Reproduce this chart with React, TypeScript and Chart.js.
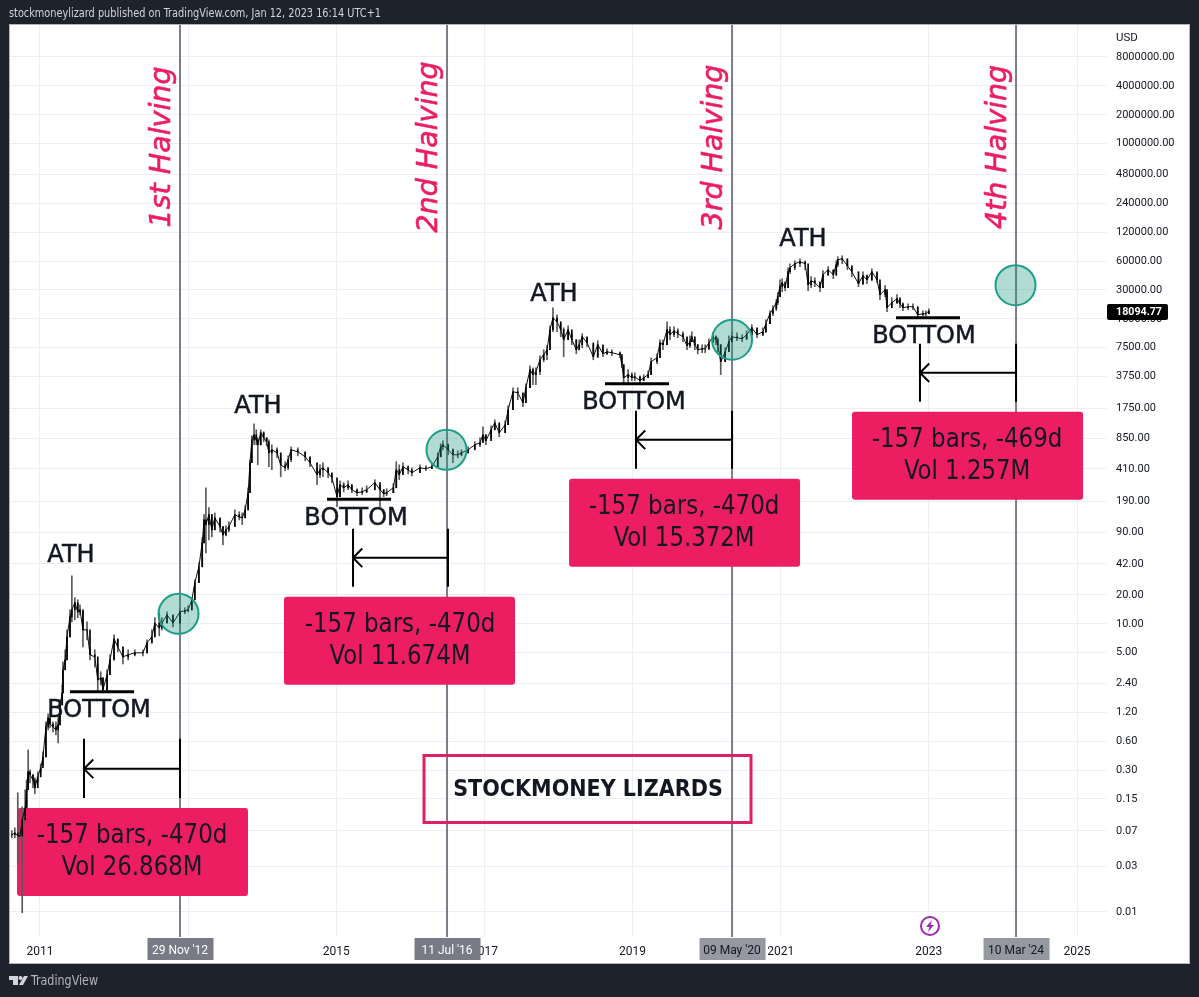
import React, { useEffect, useRef } from "react";
import { Chart, registerables } from "chart.js";

Chart.register(...registerables);

const barYears = [
  2010.62,2010.66,2010.70,2010.73,2010.76,2010.80,2010.82,2010.84,2010.865,2010.905,
  2010.93,2010.97,2011.01,2011.04,2011.08,2011.11,2011.135,2011.175,2011.215,2011.245,
  2011.27,2011.30,2011.31,2011.34,2011.365,2011.405,2011.43,2011.47,2011.51,2011.54,
  2011.58,2011.635,2011.675,2011.74,2011.78,2011.82,2011.85,2011.905,2011.945,2012.0,
  2012.05,2012.12,2012.19,2012.28,2012.39,2012.445,2012.51,2012.55,2012.61,2012.645,
  2012.715,2012.795,2012.89,2012.955,2013.0,2013.05,2013.09,2013.145,2013.19,2013.215,
  2013.24,2013.28,2013.32,2013.36,2013.43,2013.47,2013.51,2013.55,2013.63,2013.69,
  2013.73,2013.77,2013.81,2013.835,2013.86,2013.89,2013.92,2013.94,2013.98,2014.02,
  2014.06,2014.09,2014.13,2014.20,2014.25,2014.31,2014.35,2014.39,2014.48,2014.58,
  2014.645,2014.74,2014.78,2014.82,2014.89,2014.94,2015.01,2015.05,2015.10,2015.16,
  2015.21,2015.28,2015.35,2015.41,2015.52,2015.59,2015.64,2015.68,2015.77,2015.81,
  2015.85,2015.90,2015.97,2016.02,2016.13,2016.21,2016.29,2016.37,2016.41,2016.44,
  2016.51,2016.575,2016.64,2016.69,2016.78,2016.87,2016.94,2016.98,2017.02,2017.09,
  2017.14,2017.20,2017.28,2017.32,2017.385,2017.45,2017.52,2017.56,2017.615,2017.655,
  2017.695,2017.75,2017.80,2017.845,2017.885,2017.925,2017.98,2018.03,2018.07,2018.13,
  2018.18,2018.24,2018.28,2018.32,2018.385,2018.47,2018.53,2018.60,2018.655,2018.72,
  2018.83,2018.855,2018.88,2018.94,2018.99,2019.03,2019.10,2019.15,2019.21,2019.25,
  2019.33,2019.37,2019.41,2019.465,2019.505,2019.56,2019.61,2019.68,2019.735,2019.775,
  2019.80,2019.84,2019.88,2019.94,2019.98,2020.03,2020.085,2020.125,2020.15,2020.19,
  2020.25,2020.30,2020.34,2020.41,2020.48,2020.54,2020.61,2020.68,2020.76,2020.80,
  2020.855,2020.895,2020.94,2020.96,2020.99,2021.02,2021.06,2021.10,2021.125,2021.19,
  2021.26,2021.33,2021.37,2021.41,2021.46,2021.53,2021.57,2021.64,2021.71,2021.75,
  2021.77,2021.83,2021.90,2021.96,2022.05,2022.11,2022.165,2022.23,2022.30,2022.34,
  2022.41,2022.435,2022.50,2022.57,2022.61,2022.65,2022.72,2022.785,2022.85,2022.92,
  2022.96,2023.0,
];

const barCloses = [
  .0634,.0665,.0619,.0619,.0908,.121,.187,.288,.268,.237,
  .196,.255,.317,.412,.845,1.05,.908,.845,.787,.887,
  1.43,1.91,3.32,4.22,7.32,11.8,14,16.6,13.3,14,
  8.66,8.66,4.76,4.53,2.61,2.74,2.06,2.95,4.22,6.98,
  5.76,4.53,4.76,4.99,4.99,6.34,7.32,10.2,9.08,10.2,
  12.4,10.2,13.3,13.7,14,17.8,26.8,39.3,69.8,121,
  108,137,95.3,127,103,84.5,95,103,137,130,
  127,154,232,476,825,930,825,732,976,866,
  787,604,649,604,453,422,511,649,619,549,
  476,357,402,422,374,332,211,281,261,281,
  249,232,237,249,295,249,226,232,261,402,
  357,432,402,374,422,412,432,549,698,732,
  649,576,576,604,649,732,768,930,806,1049,
  1241,976,1183,1696,2612,2550,2006,2876,4430,3930,
  4220,5620,6340,7150,11550,15400,13990,11550,9080,11550,
  9080,7150,8060,9760,8450,6040,8060,6490,6810,6650,
  6340,4990,3650,3930,3650,3740,3400,3650,3930,5360,
  5900,8450,8060,11550,10240,11270,10490,9760,7870,8660,
  9760,8060,7150,7320,7320,8450,9760,9080,8060,5360,
  6810,8660,9760,9530,9300,10240,12110,10240,11000,13340,
  16960,19120,22080,25500,32420,35700,31660,46400,51100,56200,
  59000,56200,34000,37400,35700,31660,43200,48700,43200,54900,
  61900,63400,53600,46400,34800,42200,38300,46400,38300,26760,
  30170,19580,22080,24310,21560,19580,20060,20060,16550,16960,
  16960,18094,
];

const barHighs = [
  .0698,.075,.174,.0681,.124,.187,.237,.487,.302,.268,
  .249,.288,.348,.464,.953,1.155,1.05,.953,.953,1.05,
  1.62,2.32,4.02,5.36,8.66,14,31.7,18.7,17.8,15.8,
  13.3,10.5,5.62,5.36,3.74,3.17,2.74,3.32,4.76,7.68,
  6.81,5.36,5.36,5.36,5.36,6.81,8.66,11.6,13,11.6,
  13.3,11.8,14.3,14.7,15.4,18.7,28.8,43.2,78.7,137,
  261,162,137,143,121,103,105,115.5,154,147,
  143,170,261,511,908,1211,1049,866,1049,1000,
  866,825,732,681,576,487,562,698,681,604,
  536,422,453,476,422,365,261,309,295,309,
  281,255,261,274,317,281,249,255,288,487,
  453,476,443,422,453,443,464,604,750,806,
  750,665,634,649,698,787,866,1127,930,1155,
  1334,1183,1302,1866,2876,2876,2373,3166,4870,4640,
  4640,6190,7150,7870,12710,19580,16550,13340,12110,12710,
  10750,9080,9080,10500,9530,8060,8870,7500,7320,7150,
  6810,6340,4990,4430,4120,4120,3830,3930,4320,5900,
  6490,9080,9080,13990,12410,12410,11830,11000,9300,10000,
  11000,9300,8060,8060,8060,9300,10750,10000,9530,8060,
  7500,10000,10750,10750,10240,11270,13020,11550,12110,14680,
  18220,20550,23730,28070,38300,39300,36500,51100,56200,60400,
  63400,60400,43200,41200,40200,36500,47600,52400,47600,60400,
  66500,68100,60400,52400,39300,46400,43200,49900,44300,34000,
  33210,28760,24900,26760,24900,22080,21560,21560,19580,18220,
  18220,19120,
];

const barLows = [
  .059,.059,.0324,.059,.0098,.0806,.124,.187,.221,.196,
  .17,.226,.288,.34,.412,.787,.825,.75,.698,.576,
  .887,1.43,1.91,3.32,4.22,7.32,10.5,11,11.6,12.4,
  5.76,6.81,4.22,3.57,1.96,2.32,1.91,1.96,2.95,4.22,
  5.11,3.83,4.22,4.64,4.64,4.99,6.34,7.32,7.5,8.66,
  10.2,9.3,10,12.7,13.3,14,17.8,26.8,39.3,69.8,
  54.9,75,80.6,95.3,90.8,66.5,82.5,90.8,103,121,
  108,127,154,232,476,732,732,453,732,787,
  715,432,402,536,340,393,402,487,562,499,
  432,281,332,340,332,295,166,211,237,249,
  232,216,221,232,249,166,211,216,232,261,
  317,374,365,348,383,393,412,432,549,649,
  576,476,536,562,604,665,698,787,732,866,
  1049,887,976,1183,1696,2156,1822,2006,2876,3090,
  3090,3930,5360,5620,7150,11000,11000,9760,6040,9080,
  8060,6490,7150,7500,7680,5620,5900,6040,6340,6190,
  5900,4640,3242,3242,3400,3400,3166,3400,3650,3930,
  5110,5900,7150,8060,9080,9760,9530,8660,7150,7500,
  8660,7150,6490,6650,6650,7150,8450,8060,6810,3930,
  5360,6810,8660,8870,8660,9080,10000,9530,10000,10750,
  13340,16160,18220,21050,25500,28760,29450,31660,44300,48700,
  52400,48700,29450,31660,32420,28760,31660,42200,39300,42200,
  52400,56200,48700,41200,32420,34000,34800,37400,35700,23730,
  25500,17790,19580,21560,19580,18220,18660,18660,15780,16160,
  16160,16960,
];

const priceTicks = [8000000,4000000,2000000,1000000,480000,240000,120000,60000,30000,15000,7500,3750,1750,850,410,190,90,42,20,10,5,2.4,1.2,0.6,0.3,0.15,0.07,0.03,0.01];
const yearTicks = [2011,2013,2015,2017,2019,2021,2023,2025];
const priceMin = 0.00548;
const priceMax = 17220000;
const yearMin = 2010.595;
const yearMax = 2025.405;

const halvingYears = [2012.89, 2016.495, 2020.343, 2024.177];
const halvingTitles = ["1st Halving", "2nd Halving", "3rd Halving", "4th Halving"];
const halvingTags = ["29 Nov '12", "11 Jul '16", "09 May '20", "10 Mar '24"];
const circleYears = [2012.87, 2016.488, 2020.343, 2024.17];
const circlePrices = [12.7, 649, 9080, 33600];
const bottomStarts = [2011.405, 2014.875, 2018.628, 2022.557];
const bottomEnds = [2012.27, 2015.74, 2019.492, 2023.42];
const bottomPrices = [1.96, 198, 3166, 15400];
const measureStarts = [2011.594, 2015.226, 2019.046, 2022.88];
const measureEnds = [2012.89, 2016.508, 2020.343, 2024.177];
const measureMids = [0.309, 48.7, 825, 4120];
const measureTops = [0.634, 97.6, 1655, 8250];
const measureBottoms = [0.154, 24.3, 412, 2055];
const measureLines = ["-157 bars, -470d", "-157 bars, -470d", "-157 bars, -470d", "-157 bars, -469d"];
const volumeLines = ["Vol 26.868M", "Vol 11.674M", "Vol 15.372M", "Vol 1.257M"];

const FONT = '"DejaVu Sans Condensed", "DejaVu Sans", sans-serif';
const WIDE = '"DejaVu Sans", sans-serif';
const AXIS = 'Roboto, "DejaVu Sans", sans-serif';
const PINK = "#ec1e61";

function pairs() {
  const pts: any[] = [];
  halvingYears.forEach((x) => {
    pts.push({ x, y: priceMin }, { x, y: priceMax }, { x, y: null });
  });
  return pts;
}

function measurePoints() {
  const pts: any[] = [];
  measureStarts.forEach((s, i) => {
    const e = measureEnds[i];
    pts.push({ x: s, y: measureTops[i] }, { x: s, y: measureBottoms[i] }, { x: s, y: null });
    pts.push({ x: e, y: measureTops[i] }, { x: e, y: measureBottoms[i] }, { x: e, y: null });
    pts.push({ x: s, y: measureMids[i] }, { x: e, y: measureMids[i] }, { x: e, y: null });
    pts.push(
      { x: s + 0.125, y: measureMids[i] * 1.25 },
      { x: s, y: measureMids[i] },
      { x: s + 0.125, y: measureMids[i] / 1.25 },
      { x: s, y: null },
    );
  });
  return pts;
}

function bottomPoints() {
  const pts: any[] = [];
  bottomStarts.forEach((s, i) => {
    pts.push({ x: s, y: bottomPrices[i] }, { x: bottomEnds[i], y: bottomPrices[i] }, { x: s, y: null });
  });
  return pts;
}

function roundBox(ctx: CanvasRenderingContext2D, x: number, y: number, w: number, h: number, r: number) {
  ctx.beginPath();
  ctx.roundRect(x, y, w, h, r);
}

function squeezed(ctx: CanvasRenderingContext2D, text: string, x: number, y: number, ratio: number) {
  ctx.fillText(text, x, y, ctx.measureText(text).width * ratio);
}

const framePlugin = {
  id: "frame",
  beforeDraw(chart: any) {
    const { ctx, width, height } = chart;
    ctx.save();
    ctx.fillStyle = "#1e222d";
    ctx.fillRect(0, 0, width, height);
    ctx.fillStyle = "#ffffff";
    ctx.fillRect(10, 25, 1179, 938);
    ctx.strokeStyle = "#b2b5be";
    ctx.lineWidth = 1;
    ctx.strokeRect(9.5, 24.5, 1180, 939);
    ctx.fillStyle = "#d1d4dc";
    ctx.font = `12px ${FONT}`;
    ctx.textBaseline = "middle";
    ctx.fillText("stockmoneylizard published on TradingView.com, Jan 12, 2023 16:14 UTC+1", 9, 14, 372);
    ctx.font = `14px ${FONT}`;
    ctx.fillStyle = "#b2b5be";
    ctx.fillText("TradingView", 31, 981, 67);
    ctx.fillStyle = "#d1d4dc";
    ctx.fillRect(9, 976, 9, 4);
    ctx.fillRect(13, 976, 5, 9);
    ctx.beginPath();
    ctx.arc(20.5, 978, 2, 0, Math.PI * 2);
    ctx.fill();
    ctx.beginPath();
    ctx.moveTo(24, 976);
    ctx.lineTo(28, 976);
    ctx.lineTo(23, 985);
    ctx.lineTo(19, 985);
    ctx.closePath();
    ctx.fill();
    ctx.restore();
  },
  afterDatasetDraw(chart: any, args: any) {
    if (chart.data.datasets[args.index].label !== "Halvings") return;
    const { ctx, scales } = chart;
    ctx.save();
    ctx.fillStyle = PINK;
    // callout boxes sit above the halving lines and under the candles
    measureEnds.forEach((e, i) => {
      const x = scales.x.getPixelForValue(e);
      const y = scales.y.getPixelForValue(measureBottoms[i]);
      roundBox(ctx, x + [-163, -164, -163, -164][i], y + 10, 231, 88, 3);
      ctx.fill();
    });
    ctx.restore();
  },
  afterDraw(chart: any) {
    const { ctx, scales } = chart;
    const x = (v: number) => scales.x.getPixelForValue(v);
    const y = (v: number) => scales.y.getPixelForValue(v);
    ctx.save();
    ctx.textAlign = "center";
    ctx.textBaseline = "middle";

    // rotated halving titles
    halvingYears.forEach((h, i) => {
      ctx.save();
      ctx.translate(x(h) - 17, 147);
      ctx.rotate(-Math.PI / 2);
      ctx.fillStyle = PINK;
      ctx.strokeStyle = PINK;
      ctx.lineWidth = 0.6;
      ctx.font = `italic 28.5px ${WIDE}`;
      ctx.fillText(halvingTitles[i], 0, 0);
      ctx.strokeText(halvingTitles[i], 0, 0);
      ctx.restore();
    });

    // ATH and BOTTOM captions
    ctx.fillStyle = "#131722";
    ctx.strokeStyle = "#131722";
    ctx.lineWidth = 0.5;
    ctx.font = `24px ${WIDE}`;
    const athCentres = [71, 258, 554, 803];
    const athRows = [556, 407, 295, 240];
    athCentres.forEach((c, i) => {
      ctx.fillText("ATH", c, athRows[i]);
      ctx.strokeText("ATH", c, athRows[i]);
    });
    bottomStarts.forEach((s, i) => {
      const cx = (x(s) + x(bottomEnds[i])) / 2 + [-3, -3, -3, -4][i];
      ctx.fillText("BOTTOM", cx, y(bottomPrices[i]) + 19);
      ctx.strokeText("BOTTOM", cx, y(bottomPrices[i]) + 19);
    });

    // callout text
    ctx.font = `27px ${FONT}`;
    measureEnds.forEach((e, i) => {
      const cx = x(e) + [-48, -48, -48, -49][i];
      const top = y(measureBottoms[i]) + 10;
      squeezed(ctx, measureLines[i], cx, top + 28, 0.945);
      squeezed(ctx, volumeLines[i], cx, top + 60, 0.94);
    });

    // signature box
    ctx.strokeStyle = "#dc2266";
    ctx.lineWidth = 3;
    ctx.strokeRect(424, 755.5, 327, 67);
    ctx.fillStyle = "#131722";
    ctx.font = `bold 23px ${FONT}`;
    ctx.fillText("STOCKMONEY LIZARDS", 588, 790);

    // date tags over the time axis
    halvingYears.forEach((h, i) => {
      const cx = x(h);
      const w = 66;
      ctx.fillStyle = i < 2 ? "#787b86" : "#9598a1";
      ctx.fillRect(cx - w / 2 + 0.5, 938, w, 22);
      ctx.fillStyle = i < 2 ? "#ffffff" : "#131722";
      ctx.font = `12px ${AXIS}`;
      ctx.fillText(halvingTags[i], cx, 951);
    });

    // last price tag and unit
    ctx.textAlign = "left";
    ctx.fillStyle = "#000000";
    roundBox(ctx, 1107, 304, 61, 16, 2);
    ctx.fill();
    ctx.fillStyle = "#ffffff";
    ctx.font = `bold 11.5px ${AXIS}`;
    ctx.fillText("18094.77", 1116, 312.5, 46);
    ctx.fillStyle = "#131722";
    ctx.font = `11.5px ${AXIS}`;
    ctx.fillText("USD", 1116, 38);

    // lightning badge
    ctx.strokeStyle = "#9c27b0";
    ctx.lineWidth = 2;
    ctx.beginPath();
    ctx.arc(930, 926, 9, 0, Math.PI * 2);
    ctx.stroke();
    ctx.fillStyle = "#9c27b0";
    ctx.beginPath();
    ctx.moveTo(932, 920);
    ctx.lineTo(926, 927);
    ctx.lineTo(929.5, 927);
    ctx.lineTo(928, 932);
    ctx.lineTo(934, 925);
    ctx.lineTo(930.5, 925);
    ctx.closePath();
    ctx.fill();
    ctx.restore();
  },
};

export default function App() {
  const ref = useRef<HTMLCanvasElement | null>(null);
  useEffect(() => {
    document.body.style.margin = "0";
    document.body.style.background = "#1e222d";
    const wicks = barYears.map((x, i) => ({ x, y: [barLows[i], barHighs[i]] }));
    const bodies = barYears.map((x, i) => ({
      x,
      y: [i === 0 ? barCloses[0] : barCloses[i - 1], barCloses[i]],
    }));
    const closes = barYears.map((x, i) => ({ x, y: barCloses[i] }));
    const chart = new Chart(ref.current as HTMLCanvasElement, {
      type: "bar",
      data: {
        datasets: [
          {
            label: "Measure",
            type: "line",
            data: measurePoints(),
            borderColor: "#000000",
            borderWidth: 2,
            pointRadius: 0,
            spanGaps: false,
            order: 1,
          },
          {
            label: "Bottom",
            type: "line",
            data: bottomPoints(),
            borderColor: "#000000",
            borderWidth: 3,
            pointRadius: 0,
            spanGaps: false,
            order: 2,
          },
          {
            label: "Halving zone",
            type: "scatter",
            data: circleYears.map((x, i) => ({ x, y: circlePrices[i] })),
            pointRadius: 20,
            pointHoverRadius: 20,
            pointBorderWidth: 2,
            pointBorderColor: "#1d9e87",
            pointBackgroundColor: "rgba(29,150,130,0.34)",
            order: 3,
          },
          {
            label: "Body",
            data: bodies,
            backgroundColor: "#000000",
            barThickness: 1,
            grouped: false,
            order: 4,
          },
          {
            label: "Close",
            type: "line",
            data: closes,
            borderColor: "#111111",
            borderWidth: 1,
            pointRadius: 0,
            tension: 0,
            order: 5,
          },
          {
            label: "Wick",
            data: wicks,
            backgroundColor: "#5a5a5a",
            barThickness: 1,
            grouped: false,
            order: 6,
          },
          {
            label: "Halvings",
            type: "line",
            data: pairs(),
            borderColor: "#7b7e89",
            borderWidth: 2,
            pointRadius: 0,
            spanGaps: false,
            order: 7,
          },
        ] as any,
      },
      options: {
        responsive: false,
        animation: false,
        layout: { autoPadding: false, padding: { left: 10, top: 25, right: 10, bottom: 34 } },
        plugins: { legend: { display: false }, tooltip: { enabled: false } },
        scales: {
          x: {
            type: "linear",
            min: yearMin,
            max: yearMax,
            offset: false,
            grid: { color: "#eceef1", offset: false, drawTicks: false },
            border: { display: false },
            afterBuildTicks: (s: any) => {
              s.ticks = yearTicks.map((value) => ({ value }));
            },
            afterFit: (s: any) => {
              s.height = 26;
            },
            ticks: {
              autoSkip: false,
              maxRotation: 0,
              align: "start",
              labelOffset: -13.5,
              padding: 8,
              color: "#131722",
              font: { family: AXIS, size: 12 },
              callback: (v: any) => String(v),
            },
          },
          y: {
            type: "logarithmic",
            position: "right",
            min: priceMin,
            max: priceMax,
            grid: { color: "#eceef1", drawTicks: false },
            border: { display: false },
            afterBuildTicks: (s: any) => {
              s.ticks = priceTicks.map((value) => ({ value }));
            },
            afterFit: (s: any) => {
              s.width = 82;
              s.paddingTop = 0;
              s.paddingBottom = 0;
            },
            ticks: {
              autoSkip: false,
              padding: 9,
              color: "#131722",
              font: { family: AXIS, size: 11 },
              callback: (v: any) => Number(v).toFixed(2),
            },
          },
        },
      } as any,
      plugins: [framePlugin as any],
    });
    return () => chart.destroy();
  }, []);
  return <canvas ref={ref} width={1199} height={997} style={{ display: "block", width: 1199, height: 997 }} />;
}
